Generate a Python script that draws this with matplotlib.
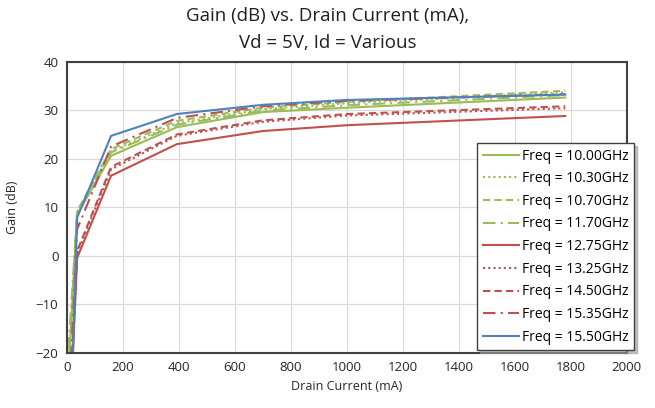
import matplotlib
matplotlib.use("Agg")
import matplotlib.pyplot as plt

# drain current (mA) sample points
drain_ma = [0, 37, 158, 393, 700, 1000, 1780]

freq_labels = ["Freq = 10.00GHz", "Freq = 10.30GHz", "Freq = 10.70GHz", "Freq = 11.70GHz",
               "Freq = 12.75GHz", "Freq = 13.25GHz", "Freq = 14.50GHz", "Freq = 15.35GHz",
               "Freq = 15.50GHz"]

gain_1000 = [-31.0, 8.5, 20.6, 26.5, 29.6, 30.5, 32.6]
gain_1030 = [-30.5, 9.0, 21.5, 27.3, 30.2, 31.4, 33.7]
gain_1070 = [-30.0, 9.2, 22.0, 27.8, 30.5, 31.7, 34.0]
gain_1170 = [-24.5, 9.0, 21.3, 27.0, 29.9, 31.0, 33.1]
gain_1275 = [-48.7, -0.4, 16.5, 23.0, 25.7, 26.9, 28.8]
gain_1325 = [-45.0, 0.5, 17.8, 24.7, 27.6, 28.9, 30.4]
gain_1450 = [-44.0, 1.0, 18.3, 25.0, 27.9, 29.2, 30.8]
gain_1535 = [-40.0, 5.5, 22.5, 28.4, 30.8, 31.9, 33.3]
gain_1550 = [-60.9, 7.9, 24.7, 29.2, 31.1, 32.1, 33.2]

green = '#9BBB59'
red = '#C0504D'
blue = '#4F81BD'

series = [
    (gain_1000, green, '-'),
    (gain_1030, green, (0, (1, 1.5))),
    (gain_1070, green, (0, (3.5, 2))),
    (gain_1170, green, (0, (6, 2.5, 1, 2.5))),
    (gain_1275, red, '-'),
    (gain_1325, red, (0, (1, 1.5))),
    (gain_1450, red, (0, (3.5, 2))),
    (gain_1535, red, (0, (6, 2.5, 1, 2.5))),
    (gain_1550, blue, '-'),
]

plt.rcParams['font.family'] = ['Open Sans', 'DejaVu Sans']

fig = plt.figure(figsize=(6.55, 4.08), dpi=100)
ax = fig.add_axes([0.102, 0.135, 0.855, 0.714])

for (vals, color, ls), label in zip(series, freq_labels):
    ax.plot(drain_ma, vals, color=color, linestyle=ls, linewidth=1.5, label=label)

ax.set_xlim(0, 2000)
ax.set_ylim(-20, 40)
ax.set_xticks(range(0, 2001, 200))
ax.set_yticks(range(-20, 41, 10))
ax.grid(True, color='#D9D9D9', linewidth=0.9)
ax.set_axisbelow(True)
ax.tick_params(length=0, labelsize=9.5, colors='#262626', pad=6)
for s in ax.spines.values():
    s.set_color('#404040')
    s.set_linewidth(1.5)

ax.set_xlabel('Drain Current (mA)', fontsize=9, color='#262626', labelpad=4)
ax.set_ylabel('Gain (dB)', fontsize=9, color='#262626', labelpad=12)

fig.text(0.5, 0.962, 'Gain (dB) vs. Drain Current (mA),', ha='center', va='center',
         fontsize=13.5, color='#202020')
fig.text(0.5, 0.895, 'Vd = 5V, Id = Various', ha='center', va='center',
         fontsize=13.5, color='#202020')

leg = ax.legend(loc='upper left', bbox_to_anchor=(477 / 655, 1 - 143 / 408),
                bbox_transform=fig.transFigure, fontsize=10, frameon=True,
                fancybox=False, shadow={'ox': 2, 'oy': -2, 'color': '#999999', 'alpha': 0.6},
                handlelength=2.6, handletextpad=0.25,
                labelspacing=0.55, borderpad=0.4, borderaxespad=0)
leg.get_frame().set_edgecolor('#404040')
leg.get_frame().set_linewidth(1.0)

fig.savefig('out.png', dpi=100)
